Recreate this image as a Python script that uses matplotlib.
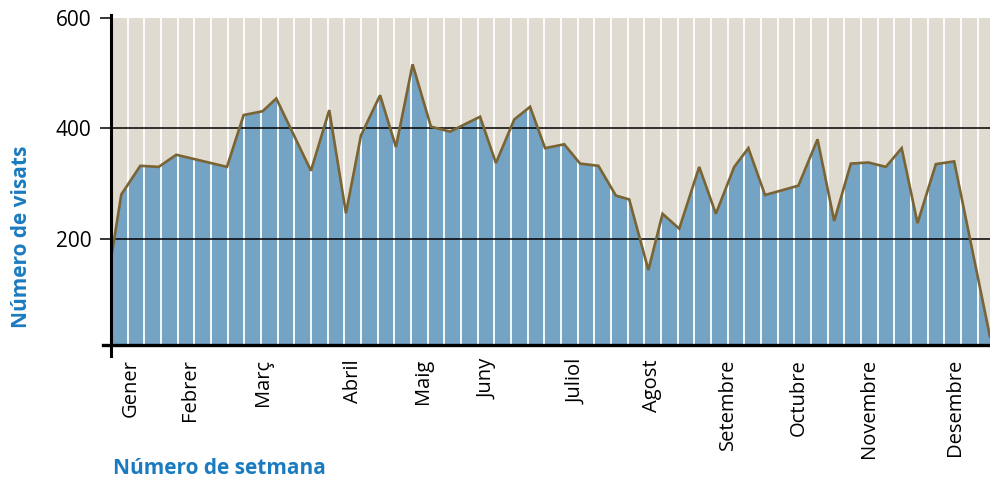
import matplotlib
matplotlib.use("Agg")
import matplotlib.pyplot as plt
import numpy as np

plt.rcParams['font.family'] = ['Open Sans', 'DejaVu Sans']

# week position (fractional weeks) and number of visits
setmana = [0.05, 0.62, 1.76, 2.86, 3.92, 6.96, 7.96, 9.1, 9.92, 12.0, 13.1, 14.1,
           15.0, 16.15, 17.1, 18.1, 19.2, 20.35, 22.15, 23.1, 24.2, 25.15, 26.05,
           27.2, 28.15, 29.25, 30.3, 31.1, 32.25, 33.1, 34.1, 35.3, 36.3, 37.4,
           38.25, 39.25, 41.25, 42.4, 43.4, 44.4, 45.45, 46.5, 47.45, 48.4, 49.5,
           50.6, 52.75]
visats = [172, 280, 332, 330, 352, 330, 424, 431, 454, 323, 433, 246,
          387, 460, 366, 516, 403, 394, 421, 337, 416, 439, 364,
          371, 336, 332, 278, 271, 143, 245, 218, 330, 245, 330,
          364, 279, 296, 380, 232, 336, 338, 330, 364, 228, 335,
          340, 22]

mesos = ["Gener", "Febrer", "Març", "Abril", "Maig", "Juny", "Juliol", "Agost",
         "Setembre", "Octubre", "Novembre", "Desembre"]
mesos_pos = [1.16, 4.76, 9.14, 14.5, 18.75, 22.6, 27.9, 32.45, 37.0, 41.3, 45.5, 50.65]

y_ticks = [200, 400, 600]
n_setmanes = 52

fill_color = "#74A3C4"
bg_color = "#E0DBD0"
line_color = "#7B6434"
label_color = "#1B7BC0"

fig = plt.figure(figsize=(9.9, 4.83), dpi=100)
ax = fig.add_axes([0.1121, 0.2857, 0.8879, 0.6770])
ax.set_facecolor(bg_color)

ax.fill_between(setmana, 0, visats, color=fill_color, zorder=1, linewidth=0)
for k in range(1, n_setmanes + 1):
    ax.axvline(k, color="white", lw=1.3, zorder=2)
for t in [200, 400]:
    ax.axhline(t, color="black", lw=1.1, zorder=3)
ax.plot(setmana, visats, color=line_color, lw=1.9, zorder=4, solid_joinstyle='miter')

ax.set_xlim(0, 52.75)
ax.set_ylim(7, 600)

for s in ["top", "right", "left", "bottom"]:
    ax.spines[s].set_visible(False)

# axis lines
ax.plot([0, 0], [-0.035, 1.01], transform=ax.transAxes, color="black", lw=2.2,
        clip_on=False, zorder=5)
ax.plot([-0.009, 1.0], [0, 0], transform=ax.transAxes, color="black", lw=2.4,
        clip_on=False, zorder=5)

ax.set_yticks(y_ticks)
ax.set_yticklabels([str(v) for v in y_ticks])
ax.tick_params(axis='y', length=8, width=1.1, direction='out', pad=6,
               labelsize=15, colors="black")

ax.set_xticks(mesos_pos)
ax.set_xticklabels(mesos, rotation=90, va='top', ha='center')
ax.tick_params(axis='x', length=0, pad=10, labelsize=14.5)

fig.text(113 / 990, (483 - 469) / 483, "Número de setmana", color=label_color,
         fontsize=15, fontweight='bold', ha='left', va='center')
fig.text(22 / 990, (483 - 237) / 483, "Número de visats", color=label_color,
         fontsize=15, fontweight='bold', ha='center', va='center', rotation=90)

fig.savefig("out.png", dpi=100)
